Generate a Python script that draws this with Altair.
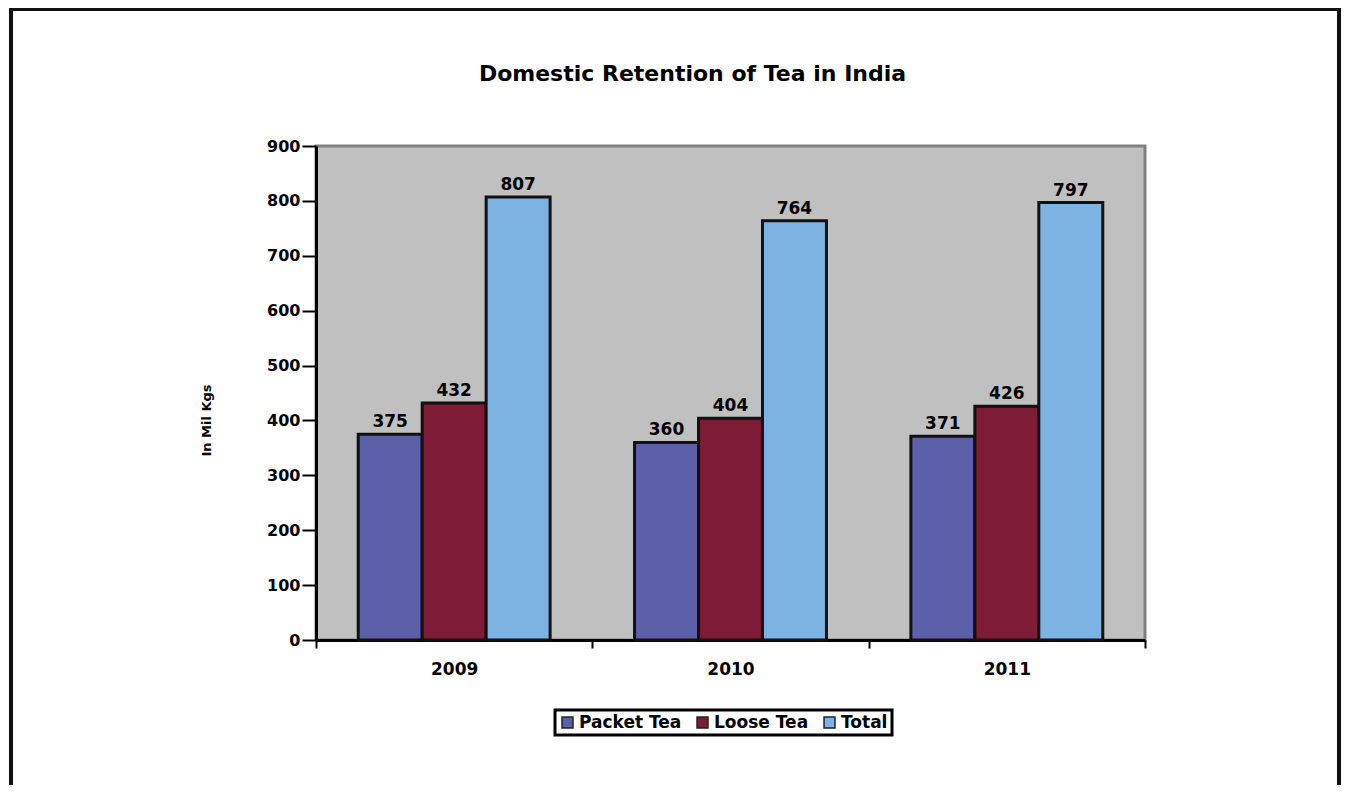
import altair as alt
import pandas as pd

years = ["2009", "2010", "2011"]
series = ["Packet Tea", "Loose Tea", "Total"]
packet_tea = [375, 360, 371]
loose_tea = [432, 404, 426]
total = [807, 764, 797]
colors = ["#5B60A8", "#7E1B36", "#7DB3E3"]
y_ticks = [0, 100, 200, 300, 400, 500, 600, 700, 800, 900]
title_text = "Domestic Retention of Tea in India"

rows = []
for i, yr in enumerate(years):
    for s, vals in zip(series, [packet_tea, loose_tea, total]):
        rows.append({"Year": yr, "Series": s, "Value": vals[i]})
df = pd.DataFrame(rows)

FONT = "DejaVu Sans"
W, H = 829, 494

base = alt.Chart(df).encode(
    x=alt.X("Year:N", sort=years,
            scale=alt.Scale(paddingInner=0, paddingOuter=0),
            axis=alt.Axis(title=None, labelAngle=0, tickBand="extent",
                          labelFontSize=17, labelFontWeight="bold",
                          labelPadding=13, tickSize=8)),
    xOffset=alt.XOffset("Series:N", sort=series,
                        scale=alt.Scale(paddingInner=0, paddingOuter=0.66)),
)

bars = base.mark_bar(stroke="#111111", strokeWidth=3).encode(
    y=alt.Y("Value:Q", scale=alt.Scale(domain=[0, 900], nice=False),
            axis=alt.Axis(values=y_ticks, title="In Mil Kgs",
                          titleX=-103, titleY=274, titleFontSize=13,
                          titleFontWeight="bold",
                          labelFontSize=16, labelFontWeight="bold",
                          tickSize=14, labelPadding=2)),
    color=alt.Color("Series:N", sort=series,
                    scale=alt.Scale(domain=series, range=colors),
                    legend=alt.Legend(title=None, orient="none",
                                      direction="horizontal",
                                      legendX=239, legendY=564)),
)

labels = base.mark_text(baseline="bottom", dy=-3, fontSize=17,
                        fontWeight="bold", font=FONT, color="black").encode(
    y=alt.Y("Value:Q"),
    text=alt.Text("Value:Q"),
)

single = alt.Data(values=[{"t": title_text}])

border = alt.Chart(single).mark_rect(
    fill="transparent", stroke="#111111", strokeWidth=4
).encode(
    x=alt.value(-305), x2=alt.value(1023),
    y=alt.value(-137), y2=alt.value(720),
)

title = alt.Chart(single).mark_text(
    fontSize=22, fontWeight="bold", font=FONT, color="black",
    align="center", baseline="alphabetic"
).encode(
    x=alt.value(W / 2 - 38), y=alt.value(-65), text="t:N",
)

chart = alt.layer(border, title, bars, labels).properties(
    width=W, height=H,
    autosize=alt.AutoSizeParams(type="none"),
    padding={"left": 308, "top": 138, "right": 196, "bottom": 145},
).configure(
    font=FONT,
    background="white",
).configure_view(
    fill="#C0C0C0", stroke="#808080", strokeWidth=3,
).configure_axis(
    domainColor="black", domainWidth=3, tickColor="black", tickWidth=2,
    labelColor="black", titleColor="black", grid=False, labelFont=FONT,
    titleFont=FONT,
).configure_legend(
    strokeColor="black", strokeWidth=3, padding=4,
    symbolType="square", symbolSize=120, symbolStrokeColor="#222222",
    symbolStrokeWidth=1.5, labelFontSize=17, labelFontWeight="bold",
    labelColor="black", labelFont=FONT, columnPadding=12, labelOffset=3,
)

chart.save("out.html", embed_options={"renderer": "svg", "actions": False})
